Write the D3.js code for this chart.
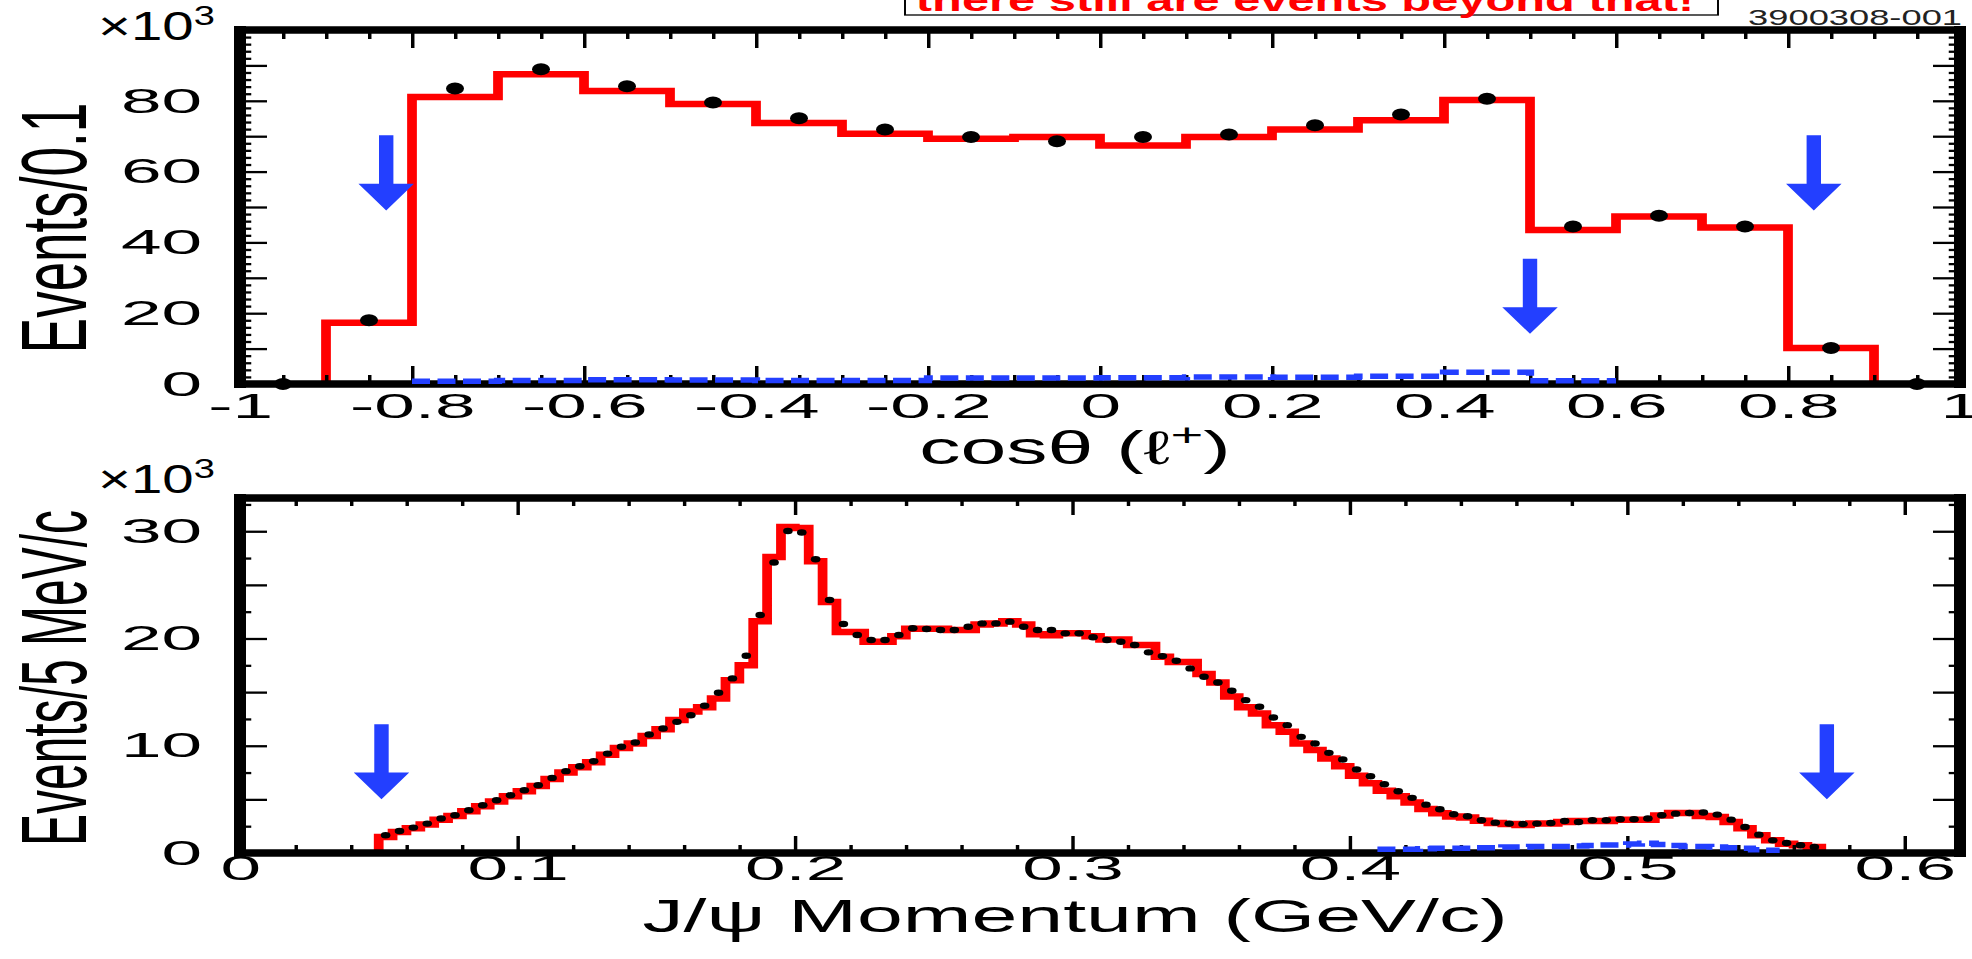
<!DOCTYPE html>
<html><head><meta charset="utf-8">
<script src="https://cdn.jsdelivr.net/npm/d3@7"></script>
<style>body{margin:0;background:#fff}svg{display:block}</style>
</head><body>
<svg id="c" width="1972" height="959"></svg>
<script>
// ---------------- DATA ----------------
// Top panel: cos(theta) of l+
const cosEdges = [-0.9,-0.8,-0.7,-0.6,-0.5,-0.4,-0.3,-0.2,-0.1,0,0.1,0.2,0.3,0.4,0.5,0.6,0.7,0.8,0.9];
const cosMC = [17.3,81.1,87.5,82.8,79.1,73.7,70.7,69.3,69.8,67.4,69.8,71.9,74.5,80.2,43.5,47.3,44.2,10.2];
const cosDataX = [-0.95,-0.85,-0.75,-0.65,-0.55,-0.45,-0.35,-0.25,-0.15,-0.05,0.05,0.15,0.25,0.35,0.45,0.55,0.65,0.75,0.85,0.95];
const cosData = [0,18.0,83.5,88.9,84.1,79.5,75.1,71.9,69.8,68.6,69.8,70.5,73.1,76.1,80.6,44.5,47.5,44.5,10.2,0];
const cosBkgEdges = [-0.8,-0.7,-0.6,-0.5,-0.4,-0.3,-0.2,-0.1,0,0.1,0.2,0.3,0.4,0.5,0.6];
const cosBkg = [0.75,1.0,1.2,1.1,1.0,1.0,1.7,1.7,1.8,2.0,1.9,2.2,3.3,0.95];
const cosXTicks = [-1,-0.8,-0.6,-0.4,-0.2,0,0.2,0.4,0.6,0.8,1];
const cosYLabels = [0,20,40,60,80];
const cosCuts = [{x:-0.83, top:70.3, base:56.6, tip:49.0},{x:0.50, top:35.4, base:21.7, tip:14.2},{x:0.83, top:70.3, base:56.6, tip:49.0}];

// Bottom panel: J/psi momentum, 5 MeV/c bins starting at 0.05 GeV/c
const pBinLow = 0.05, pBinWidth = 0.005;
const pMC = [1.5,1.95,2.3,2.65,3.1,3.45,3.9,4.35,4.8,5.3,5.75,6.25,6.9,7.5,8.0,8.45,9.15,9.8,10.2,10.9,
  11.55,12.4,13.2,13.6,14.4,16.1,17.5,21.6,27.6,30.4,30.3,27.2,23.4,20.6,20.6,19.7,19.7,20.2,20.9,20.9,20.9,
  20.8,20.8,21.3,21.4,21.6,21.3,20.4,20.3,20.5,20.5,20.2,19.9,19.9,19.4,19.4,18.3,17.8,17.8,16.7,15.9,14.6,
  13.6,13.0,11.9,11.3,10.2,9.6,8.8,8.1,7.2,6.5,5.8,5.3,4.7,4.1,3.7,3.4,3.3,3.0,2.8,2.7,2.6,
  2.74,2.74,2.9,2.99,2.99,2.99,3.11,3.11,3.11,3.5,3.73,3.73,3.45,3.35,2.9,2.3,1.65,1.18,0.87,0.72,0.56];
const pData = [1.65,2.05,2.37,2.74,3.21,3.52,3.98,4.45,4.92,5.38,5.85,6.32,7.00,7.63,8.09,8.56,9.27,9.90,10.30,11.05,
  11.61,12.23,12.85,13.73,14.94,16.28,18.39,22.19,27.08,30.03,29.88,27.39,23.59,21.35,20.32,19.86,19.86,20.32,20.95,20.88,20.79,
  20.79,21.10,21.41,21.41,21.57,21.10,20.79,20.79,20.48,20.48,20.11,19.86,19.70,19.39,18.71,18.36,17.93,17.21,16.43,15.90,15.13,
  14.25,13.63,12.64,11.92,10.83,10.21,9.34,8.72,7.78,7.16,6.41,5.76,5.14,4.51,4.08,3.61,3.42,3.05,2.83,2.74,2.70,
  2.74,2.80,2.99,2.89,3.05,3.05,3.14,3.14,3.21,3.52,3.67,3.73,3.77,3.58,3.11,2.43,1.71,1.18,0.93,0.72,0.56];
const pBkgLow = 0.41;
const pBkg = [0.35,0.35,0.35,0.4,0.45,0.45,0.45,0.5,0.5,0.55,0.55,0.6,0.6,0.6,0.65,0.7,0.75,0.75,0.85,0.9,0.8,0.7,0.6,0.6,0.55,0.5,0.45,0.3,0.25];
const pXTicks = [0,0.1,0.2,0.3,0.4,0.5,0.6];
const pYLabels = [0,10,20,30];
const pCuts = [{x:0.051, top:12.0, base:7.5, tip:5.0},{x:0.572, top:12.0, base:7.5, tip:5.0}];

// ---------------- LAYOUT ----------------
const S = 1.5;      // horizontal stretch of the whole picture
const T = 1.39;     // extra stretch for tick labels
const TT = 1.17;    // extra stretch for titles
const FONT = "'Liberation Sans', Arial, Helvetica, sans-serif";
const RED = "#ff0000", BLUE = "#233fff";
const L = 240/S, R = 1960/S;
const LABEL_FS = 35;

const svg = d3.select("#c");
const g = svg.append("g").attr("transform", `scale(${S},1)`);

const xCos = d3.scaleLinear().domain([-1,1]).range([L,R]);
const yCos = d3.scaleLinear().domain([0,100]).range([384,30]);
const xP = d3.scaleLinear().domain([0,0.62]).range([L,R]);
const yP = d3.scaleLinear().domain([0,33.1]).range([853,498]);

function stepEdges(x, y, edges, vals, drop) {
  const p = d3.path();
  if (drop) { p.moveTo(x(edges[0]), y(0)); p.lineTo(x(edges[0]), y(vals[0])); }
  else p.moveTo(x(edges[0]), y(vals[0]));
  vals.forEach((v,i) => { if (i>0) p.lineTo(x(edges[i]), y(v)); p.lineTo(x(edges[i+1]), y(v)); });
  if (drop) p.lineTo(x(edges[vals.length]), y(0));
  return p.toString();
}
function edgesFrom(lo, w, n) { return d3.range(n+1).map(i => +(lo + i*w).toFixed(4)); }

function styleAxis(s) {
  s.select(".domain").remove();
  s.selectAll("line").attr("stroke","#000").attr("stroke-width",2.3);
  s.selectAll("text").attr("font-size",LABEL_FS).attr("font-family",FONT).attr("fill","#000")
    .attr("transform",`scale(${T},1)`);
}

function frameAxes(x, y, o) {
  const [y0, y1] = y.range();
  const ax = g.append("g");
  // bottom
  ax.append("g").attr("transform",`translate(0,${y0})`)
    .call(d3.axisBottom(x).tickValues(o.xMajor).tickSize(-o.xMajLen).tickPadding(o.xPad).tickFormat(o.xFmt))
    .call(styleAxis);
  ax.append("g").attr("transform",`translate(0,${y0})`)
    .call(d3.axisBottom(x).tickValues(o.xMinor).tickSize(-o.xMinLen).tickFormat(()=>""))
    .call(styleAxis);
  // top
  ax.append("g").attr("transform",`translate(0,${y1})`)
    .call(d3.axisTop(x).tickValues(o.xMajor).tickSize(-o.xMajLen).tickFormat(()=>""))
    .call(styleAxis);
  ax.append("g").attr("transform",`translate(0,${y1})`)
    .call(d3.axisTop(x).tickValues(o.xMinor).tickSize(-o.xMinLen).tickFormat(()=>""))
    .call(styleAxis);
  // left
  ax.append("g").attr("transform",`translate(${L},0)`)
    .call(d3.axisLeft(y).tickValues(o.yMajor).tickSize(-18).tickPadding(18.2)
      .tickFormat(d => o.yLabels.includes(d) ? String(d) : ""))
    .call(styleAxis);
  ax.append("g").attr("transform",`translate(${L},0)`)
    .call(d3.axisLeft(y).tickValues(o.yMinor).tickSize(-7.5).tickFormat(()=>""))
    .call(styleAxis);
  // right
  ax.append("g").attr("transform",`translate(${R},0)`)
    .call(d3.axisRight(y).tickValues(o.yMajor).tickSize(-18).tickFormat(()=>""))
    .call(styleAxis);
  ax.append("g").attr("transform",`translate(${R},0)`)
    .call(d3.axisRight(y).tickValues(o.yMinor).tickSize(-7.5).tickFormat(()=>""))
    .call(styleAxis);
  // frame: horizontal and vertical edges
  const fr = g.append("g").attr("stroke","#000").attr("stroke-linecap","square");
  fr.append("line").attr("x1",L).attr("x2",R).attr("y1",y0).attr("y2",y0).attr("stroke-width",7.5);
  fr.append("line").attr("x1",L).attr("x2",R).attr("y1",y1).attr("y2",y1).attr("stroke-width",7.5);
  fr.append("line").attr("x1",L).attr("x2",L).attr("y1",y1).attr("y2",y0).attr("stroke-width",8);
  fr.append("line").attr("x1",R).attr("x2",R).attr("y1",y1).attr("y2",y0).attr("stroke-width",8);
}

function arrow(x, y, c) {
  const cx = x(c.x), hw = 4.8, HW = 18.5;
  const pts = [[cx-hw,y(c.top)],[cx+hw,y(c.top)],[cx+hw,y(c.base)],[cx+HW,y(c.base)],
               [cx,y(c.tip)],[cx-HW,y(c.base)],[cx-hw,y(c.base)]];
  g.append("polygon").attr("points",pts.map(p=>p.join(",")).join(" ")).attr("fill",BLUE);
}

function text(x, y, str, fs, opts={}) {
  const t = g.append("text")
    .attr("transform",`translate(${x},${y}) scale(${opts.t||T},1)` + (opts.rot ? " rotate(-90)" : ""))
    .attr("font-family",FONT).attr("font-size",fs).attr("fill",opts.fill||"#000")
    .attr("text-anchor",opts.anchor||"start").attr("font-weight",opts.weight||"normal");
  if (str !== null) t.text(str);
  return t;
}

// ---------------- TOP PANEL ----------------
g.append("path").attr("d", stepEdges(xCos, yCos, cosEdges, cosMC, true))
  .attr("fill","none").attr("stroke",RED).attr("stroke-width",6.5).attr("stroke-linejoin","miter");

frameAxes(xCos, yCos, {
  xMajor: cosXTicks,
  xMinor: d3.range(-19,20).filter(i=>i%4!==0).map(i=>i*0.05),
  xMajLen: 18, xMinLen: 9, xPad: 9,
  xFmt: d => String(+d.toFixed(1)),
  yMajor: d3.range(0,101,10),
  yMinor: d3.range(0,100,2).filter(v=>v%10!==0),
  yLabels: cosYLabels
});

g.append("path").attr("d", stepEdges(xCos, yCos, cosBkgEdges, cosBkg, false))
  .attr("fill","none").attr("stroke",BLUE).attr("stroke-width",5.5).attr("stroke-dasharray","12,5");

g.selectAll(".cdot").data(cosDataX).enter().append("circle")
  .attr("cx",(d)=>xCos(d)).attr("cy",(d,i)=>yCos(cosData[i])).attr("r",6).attr("fill","#000");

cosCuts.forEach(c=>arrow(xCos,yCos,c));

// ---------------- BOTTOM PANEL ----------------
const pEdges = edgesFrom(pBinLow, pBinWidth, pMC.length);
g.append("path").attr("d", stepEdges(xP, yP, pEdges, pMC, true))
  .attr("fill","none").attr("stroke",RED).attr("stroke-width",6.5).attr("stroke-linejoin","miter");

frameAxes(xP, yP, {
  xMajor: pXTicks,
  xMinor: d3.range(1,31).filter(i=>i%5!==0).map(i=>+(i*0.02).toFixed(2)),
  xMajLen: 17, xMinLen: 8, xPad: 2.5,
  xFmt: d => String(+d.toFixed(1)),
  yMajor: d3.range(0,31,5),
  yMinor: d3.range(0,14).map(i=>i*5+2.5).filter(v=>v<33),
  yLabels: pYLabels
});

const pBkgEdges = edgesFrom(pBkgLow, pBinWidth, pBkg.length);
g.append("path").attr("d", stepEdges(xP, yP, pBkgEdges, pBkg, false))
  .attr("fill","none").attr("stroke",BLUE).attr("stroke-width",5.5).attr("stroke-dasharray","12,5");

g.selectAll(".pdot").data(pData).enter().append("circle")
  .attr("cx",(d,i)=>xP(pBinLow + (i+0.5)*pBinWidth)).attr("cy",d=>yP(d)).attr("r",3.2).attr("fill","#000");

pCuts.forEach(c=>arrow(xP,yP,c));

// ---------------- TEXTS ----------------
// multipliers
[40, 493].forEach(yb => {
  const t = text(98/S, yb, null, 40, {t:0.94});
  t.append("tspan").text("×10");
  t.append("tspan").attr("font-size",27).attr("dy",-15).text("3");
});
// y titles
text(86/S, 228, "Events/0.1", 53, {rot:true, anchor:"middle", t:TT});
text(86/S, 678, "Events/5 MeV/c", 48, {rot:true, anchor:"middle", t:1.28});
// x titles
{
  const t = text(1075/S, 464, null, 47, {anchor:"middle", t:TT});
  t.append("tspan").text("cosθ (ℓ");
  t.append("tspan").attr("font-size",32).attr("dy",-18).text("+");
  t.append("tspan").attr("font-size",47).attr("dy",18).text(")");
}
text(1075/S, 932, "J/ψ Momentum (GeV/c)", 47, {anchor:"middle", t:TT});
// figure id
text(1962/S, 25, "3900308-001", 22, {anchor:"end", fill:"#222", t:1.1});
// note box at top
g.append("rect").attr("x",905/S).attr("y",-10).attr("width",(1718-905)/S).attr("height",25)
  .attr("fill","#fff").attr("stroke","#000").attr("stroke-width",1.3);
text(1305/S, 11, "there still are events beyond that!", 31, {anchor:"middle", fill:RED, weight:"bold", t:1.05});
</script>
</body></html>
